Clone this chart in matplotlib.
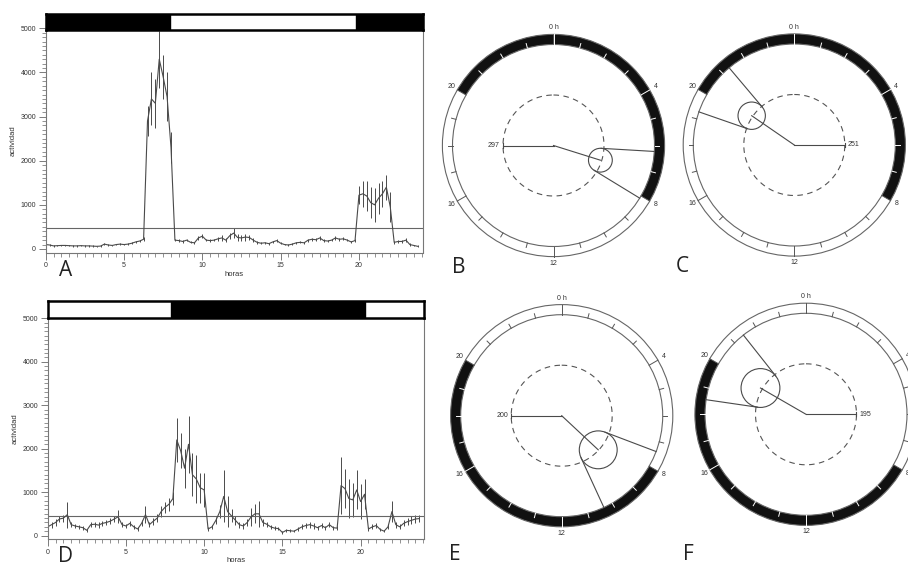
import numpy as np
import matplotlib
matplotlib.use('Agg')
import matplotlib.pyplot as plt
from matplotlib.patches import Wedge, Circle
from matplotlib.ticker import MultipleLocator

plt.rcParams['font.family'] = ['Liberation Sans', 'DejaVu Sans']

W, H = 908, 569

# actividad media cada 15 min (0 a 23.75 h)
horas = np.arange(0, 24, 0.25)

act_A = [100, 90, 70, 75, 80, 80, 75, 70, 70, 75, 70, 70,
         65, 60, 65, 110, 90, 80, 100, 110, 100, 110, 130, 160,
         180, 220, 2900, 3400, 3300, 4300, 3900, 3450, 2300, 200, 190, 170,
         200, 150, 140, 250, 290, 200, 190, 200, 230, 250, 200, 300,
         360, 260, 250, 270, 260, 200, 150, 130, 140, 120, 160, 190,
         130, 100, 90, 110, 140, 150, 140, 200, 220, 210, 250, 190,
         180, 200, 250, 220, 230, 200, 160, 190, 1220, 1250, 1200, 1050,
         1000, 1150, 1250, 1400, 950, 150, 170, 170, 200, 100, 80, 60]
err_A = [20, 20, 15, 15, 15, 15, 15, 15, 15, 15, 15, 15,
         15, 15, 15, 30, 20, 20, 20, 25, 20, 25, 25, 30,
         30, 40, 350, 600, 550, 650, 500, 550, 350, 30, 30, 25,
         30, 25, 25, 40, 40, 30, 30, 30, 40, 60, 40, 70,
         120, 70, 70, 80, 60, 40, 30, 25, 25, 25, 30, 30,
         25, 20, 20, 20, 25, 25, 25, 35, 35, 30, 40, 30,
         30, 30, 40, 35, 35, 30, 30, 30, 200, 300, 350, 350,
         380, 350, 300, 280, 350, 30, 40, 40, 40, 25, 20, 20]

act_D = [200, 250, 300, 380, 400, 480, 250, 220, 200, 180, 120, 250,
         260, 240, 280, 300, 330, 380, 430, 250, 220, 280, 200, 150,
         280, 480, 250, 330, 400, 550, 650, 720, 850, 2200, 1950, 1550,
         2100, 1400, 1300, 1100, 1050, 150, 200, 350, 550, 900, 550, 450,
         350, 250, 220, 300, 430, 500, 500, 300, 260, 200, 170, 160,
         70, 120, 110, 100, 150, 200, 230, 250, 220, 180, 230, 180,
         250, 180, 170, 1150, 1080, 850, 820, 1050, 780, 950, 150, 200,
         230, 140, 100, 200, 550, 250, 200, 280, 320, 350, 380, 390]
err_D = [60, 70, 70, 80, 80, 300, 60, 50, 50, 50, 40, 60,
         60, 60, 60, 60, 70, 80, 150, 60, 50, 60, 50, 40,
         70, 200, 60, 80, 100, 120, 130, 150, 150, 500, 400, 450,
         650, 500, 550, 350, 400, 40, 50, 80, 150, 600, 350, 150,
         100, 70, 60, 80, 200, 220, 300, 80, 60, 50, 40, 40,
         30, 30, 30, 30, 40, 60, 60, 70, 60, 50, 60, 50,
         60, 50, 50, 650, 450, 450, 400, 450, 400, 350, 40, 60,
         60, 40, 30, 60, 250, 70, 60, 70, 80, 90, 90, 90]

media_A = 480
media_D = 460

# periodos de oscuridad (h)
oscuro_A = [(0, 7.95), (19.8, 24.1)]
oscuro_D = [(7.9, 20.3)]

# diagramas circulares: escala, vector medio (h, valor), radio de confianza
circ_ref = {'B': 297, 'C': 251, 'E': 200, 'F': 195}
circ_hora = {'B': 7.16, 'C': 20.3, 'E': 8.87, 'F': 20.0}
circ_valor = {'B': 289, 'C': 257, 'E': 198, 'F': 203}
circ_conf = {'B': 70, 'C': 68, 'E': 75, 'F': 75}
circ_oscuro = {'B': [(0, 8), (20, 24)], 'C': [(0, 8), (20, 24)],
               'E': [(8, 20)], 'F': [(8, 20)]}

gris = '#4a4a4a'


def ejes_px(fig, x0, y0, x1, y1):
    return fig.add_axes([x0 / W, 1 - y1 / H, (x1 - x0) / W, (y1 - y0) / H])


def panel_actividad(fig, caja, caja_barra, act, err, media, oscuro, letra, pos_letra):
    ax = ejes_px(fig, *caja)
    ax.errorbar(horas, act, yerr=err, color=gris, lw=0.8, elinewidth=0.7, capsize=0)
    ax.axhline(media, color='#666', lw=0.8)
    ax.set_xlim(0, 24.07)
    ax.set_ylim(-80, 5000)
    ax.spines['top'].set_visible(False)
    for s in ['left', 'right', 'bottom']:
        ax.spines[s].set_color('#777')
        ax.spines[s].set_linewidth(0.8)
    ax.set_xticks([0, 5, 10, 15, 20])
    ax.set_yticks([0, 1000, 2000, 3000, 4000, 5000])
    ax.xaxis.set_minor_locator(MultipleLocator(0.5))
    ax.yaxis.set_minor_locator(MultipleLocator(100))
    ax.tick_params(which='major', labelsize=5, colors='#666', labelcolor='#333',
                   length=5, width=0.6, pad=2)
    ax.tick_params(which='minor', colors='#666', length=3, width=0.5)
    ax.set_xlabel('horas', fontsize=5.5, color='#333', labelpad=1)
    ax.set_ylabel('actividad', fontsize=5.5, color='#333', labelpad=3)

    bar = ejes_px(fig, *caja_barra)
    bar.broken_barh([(a, b - a) for a, b in oscuro], (0, 1), color='black')
    bar.set_xlim(0, 24.07)
    bar.set_ylim(0, 1)
    bar.set_xticks([])
    bar.set_yticks([])
    for s in bar.spines.values():
        s.set_linewidth(1.8)
    fig.text(pos_letra[0] / W, 1 - pos_letra[1] / H, letra, fontsize=15,
             family='Open Sans', color='#222', ha='center', va='center')


def polar_xy(h, r):
    t = np.asarray(h) / 24 * 2 * np.pi
    return r * np.sin(t), r * np.cos(t)


def panel_circular(fig, cx, cy, letra, pos_letra, lado):
    R = 101
    L = 125
    ax = ejes_px(fig, cx - L, cy - L, cx + L, cy + L)
    lim = L / R
    ax.set_xlim(-lim, lim)
    ax.set_ylim(-lim, lim)
    ax.set_aspect('equal')
    ax.axis('off')
    ax.patch.set_visible(False)

    osc = circ_oscuro[letra]
    for h1, h2 in osc:
        ax.add_patch(Wedge((0, 0), 1.1, 90 - h2 * 15, 90 - h1 * 15, width=0.1,
                           facecolor='#111', edgecolor='none'))
    for r in [1.0, 1.1]:
        ax.add_patch(Circle((0, 0), r, fill=False, edgecolor='#666', lw=0.8))

    for h in range(24):
        en_osc = any(h1 <= h + 0.01 and h - 0.01 <= h2 for h1, h2 in osc) and \
            not any(abs(h - b) < 0.01 for a, b in osc if b != 24) and \
            not any(abs(h - a) < 0.01 for a, b in osc if a != 0)
        col = 'white' if en_osc else '#555'
        r2 = 1.1 if h % 4 == 0 else 1.045
        x, y = polar_xy([h, h], [1.0, r2])
        ax.plot(x, y, color=col, lw=0.7)
        if h % 4 == 0:
            tx, ty = polar_xy(h, 1.165)
            ax.text(tx, ty, '0 h' if h == 0 else str(h), fontsize=5, color='#333',
                    ha='center', va='center')

    t = np.linspace(0, 24, 300)
    x, y = polar_xy(t, 0.5)
    ax.plot(x, y, color='#555', lw=0.8, ls=(0, (5, 4)))

    ref = circ_ref[letra]
    ax.plot([0, lado * 0.5], [0, 0], color=gris, lw=0.8)
    ax.plot([lado * 0.5, lado * 0.5], [-0.02, 0.02], color=gris, lw=0.8)
    ax.text(lado * 0.53, 0, str(ref), fontsize=5, color='#333', va='center',
            ha='right' if lado < 0 else 'left')

    hm = circ_hora[letra]
    d = circ_valor[letra] / ref * 0.5
    rc = circ_conf[letra] / ref * 0.5
    vx, vy = polar_xy(hm, d)
    ax.plot([0, vx], [0, vy], color=gris, lw=0.8)
    ax.add_patch(Circle((vx, vy), rc, fill=False, edgecolor=gris, lw=0.8))
    alfa = np.degrees(np.arcsin(rc / d)) / 15
    tt = np.sqrt(d ** 2 - rc ** 2)
    for s in [-1, 1]:
        x, y = polar_xy([hm + s * alfa, hm + s * alfa], [tt, 1.0])
        ax.plot(x, y, color=gris, lw=0.8)

    fig.text(pos_letra[0] / W, 1 - pos_letra[1] / H, letra, fontsize=15,
             family='Open Sans', color='#222', ha='center', va='center')


fig = plt.figure(figsize=(W / 100, H / 100), dpi=100)

panel_actividad(fig, (45.7, 28.3, 422.7, 252.5), (45.7, 13.5, 422.7, 29.5),
                act_A, err_A, media_A, oscuro_A, 'A', (66, 270))
panel_actividad(fig, (47.7, 318.3, 424.3, 539), (47.7, 301, 424.3, 317.5),
                act_D, err_D, media_D, oscuro_D, 'D', (66, 557))

panel_circular(fig, 553.5, 145.5, 'B', (459, 267), -1)
panel_circular(fig, 794.3, 145, 'C', (682, 266), 1)
panel_circular(fig, 561.7, 415.7, 'E', (455, 555), -1)
panel_circular(fig, 806, 414.3, 'F', (688, 555), 1)

fig.savefig('out.png', dpi=100)
